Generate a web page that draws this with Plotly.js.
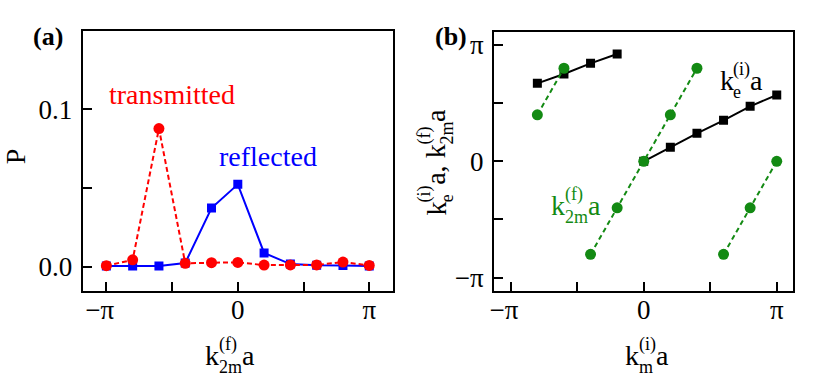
<!DOCTYPE html>
<html>
<head>
<meta charset="utf-8">
<script src="https://cdn.plot.ly/plotly-3.0.1.min.js"></script>
<style>html,body{margin:0;padding:0;background:#fff;}#chart{width:830px;height:378px;}</style>
</head>
<body>
<div id="chart"></div>
<script>
// ---------- data (x values in units of pi) ----------
var kA = [-1, -0.8, -0.6, -0.4, -0.2, 0, 0.2, 0.4, 0.6, 0.8, 1];
var transmitted = [0.0006, 0.0043, 0.0878, 0.0021, 0.0025, 0.0027, 0.0010, 0.0011, 0.0011, 0.0029, 0.0008];
var reflected = [0.0004, 0.0004, 0.0004, 0.0023, 0.0372, 0.0523, 0.0087, 0.0016, 0.0009, 0.0008, 0.0004];

var keX = [-0.8, -0.6, -0.4, -0.2, null, 0, 0.2, 0.4, 0.6, 0.8, 1];
var keY = [0.670, 0.751, 0.842, 0.923, null, 0, 0.120, 0.241, 0.352, 0.473, 0.570];

var k2mX = [-0.8, -0.6, null, -0.4, -0.2, 0, 0.2, 0.4, null, 0.6, 0.8, 1];
var k2mY = [0.4, 0.8, null, -0.8, -0.4, 0, 0.4, 0.8, null, -0.8, -0.4, 0];

var piTickVals = [-1, -0.5, 0, 0.5, 1];
var piTickTextX = ['\u2212\u03C0\u2002', '', '0', '', '\u03C0'];
var piTickTextY = ['\u2212\u03C0', '', '0', '', '\u03C0'];
var pTickVals = [0, 0.05, 0.1];
var pTickText = ['0.0', '', '0.1'];

// ---------- helpers ----------
var W = 830, H = 378;
var FONT = 'Liberation Serif';
var cv = document.createElement('canvas').getContext('2d');
function measure(t, size, bold) {
  cv.font = (bold ? 'bold ' : '') + size + 'px "' + FONT + '"';
  return cv.measureText(t).width;
}
var annotations = [];
function addText(t, cx, cy, size, color, angle, bold) {
  annotations.push({
    xref: 'paper', yref: 'paper', x: cx / W, y: 1 - cy / H,
    xanchor: 'center', yanchor: 'middle', showarrow: false,
    borderpad: 0, borderwidth: 0, textangle: angle || 0,
    text: bold ? '<b>' + t + '</b>' : t,
    font: {family: FONT, size: size, color: color}
  });
}
var C = 0.3375; // box centre above baseline (em)
// parts: [{m: main, sup:, sub:, gap:}]
function formula(parts, x0, base, S, s, color, rotated) {
  var pos = 0, raise = 0.5 * S, lower = 0.3 * S;
  parts.forEach(function (p) {
    var w = measure(p.m, S);
    place(p.m, pos + w / 2, -C * S, S);
    pos += w;
    var adv = 0;
    if (p.sup) { var ws = measure(p.sup, s); place(p.sup, pos + ws / 2, -raise - C * s, s); adv = Math.max(adv, ws); }
    if (p.sub) { var wb = measure(p.sub, s); place(p.sub, pos + wb / 2, lower - C * s, s); adv = Math.max(adv, wb); }
    pos += adv + (p.gap || 0);
  });
  function place(t, along, off, size) {
    if (rotated) addText(t, x0 + off, base - along, size, color, -90);
    else addText(t, x0 + along, base + off, size, color, 0);
  }
}

// ---------- annotations ----------
addText('(a)', 48, 36, 26, '#000', 0, true);
addText('(b)', 451, 36, 26, '#000', 0, true);
addText('transmitted', 171.5, 104.3 - C * 28, 28, '#ff0000');
addText('reflected', 267.5, 165.7 - C * 28, 28, '#0000ff');
addText('P', 25 - C * 28, 156.7, 28, '#000', -90);

formula([{m: 'k', sup: '(f)', sub: '2m'}, {m: 'a'}], 205, 365, 28, 18, '#000', false);
formula([{m: 'k', sup: '(i)', sub: 'm'}, {m: 'a'}], 625, 365, 28, 18, '#000', false);
formula([{m: 'k', sup: '(i)', sub: 'e'}, {m: 'a'}], 719.5, 89.5, 28, 18, '#000', false);
formula([{m: 'k', sup: '(f)', sub: '2m'}, {m: 'a'}], 551, 215, 28, 18, '#138a13', false);
formula([{m: 'k', sup: '(i)', sub: 'e'}, {m: 'a,', gap: measure(' ', 28)}, {m: 'k', sup: '(f)', sub: '2m'}, {m: 'a'}],
        445, 216, 28, 18, '#000', true);

// ---------- traces ----------
var traces = [
  {x: kA, y: reflected, xaxis: 'x', yaxis: 'y', mode: 'lines+markers', type: 'scatter',
   line: {color: '#0000ff', width: 2}, marker: {symbol: 'square', size: 9, color: '#0000ff'}},
  {x: kA, y: transmitted, xaxis: 'x', yaxis: 'y', mode: 'lines+markers', type: 'scatter',
   line: {color: '#ff0000', width: 2, dash: '5px,3px'}, marker: {symbol: 'circle', size: 11, color: '#ff0000'}},
  {x: keX, y: keY, xaxis: 'x2', yaxis: 'y2', mode: 'lines+markers', type: 'scatter', connectgaps: false,
   line: {color: '#000', width: 2}, marker: {symbol: 'square', size: 9, color: '#000'}},
  {x: k2mX, y: k2mY, xaxis: 'x2', yaxis: 'y2', mode: 'lines+markers', type: 'scatter', connectgaps: false,
   line: {color: '#138a13', width: 2, dash: '5px,3.5px'}, marker: {symbol: 'circle', size: 11, color: '#138a13'}}
];

function axis(extra) {
  var a = {
    showline: true, linewidth: 2, linecolor: '#000', mirror: true,
    ticks: 'inside', ticklen: 9, tickwidth: 2, tickcolor: '#000',
    showgrid: false, zeroline: false, automargin: false, fixedrange: true,
    tickfont: {family: FONT, size: 27, color: '#000'}
  };
  for (var k in extra) a[k] = extra[k];
  return a;
}

var layout = {
  width: W, height: H, margin: {l: 0, r: 0, t: 0, b: 0},
  paper_bgcolor: '#fff', plot_bgcolor: '#fff', showlegend: false,
  xaxis: axis({domain: [82.7 / W, 393.3 / W], anchor: 'y', range: [-1.18, 1.183], tickmode: 'array', tickvals: piTickVals, ticktext: piTickTextX, ticklabelstandoff: -6}),
  yaxis: axis({domain: [1 - 290.7 / H, 1 - 30.7 / H], anchor: 'x', range: [-0.0153, 0.150], tickmode: 'array', tickvals: pTickVals, ticktext: pTickText, ticklabelstandoff: 3}),
  xaxis2: axis({domain: [494 / W, 792.7 / W], anchor: 'y2', range: [-1.126, 1.12], tickmode: 'array', tickvals: piTickVals, ticktext: piTickTextX, ticklabelstandoff: -6}),
  yaxis2: axis({domain: [1 - 291 / H, 1 - 32.3 / H], anchor: 'x2', range: [-1.115, 1.109], tickmode: 'array', tickvals: piTickVals, ticktext: piTickTextY, ticklabelstandoff: 3}),
  annotations: annotations
};

Plotly.newPlot('chart', traces, layout, {displayModeBar: false, staticPlot: true});
</script>
</body>
</html>
